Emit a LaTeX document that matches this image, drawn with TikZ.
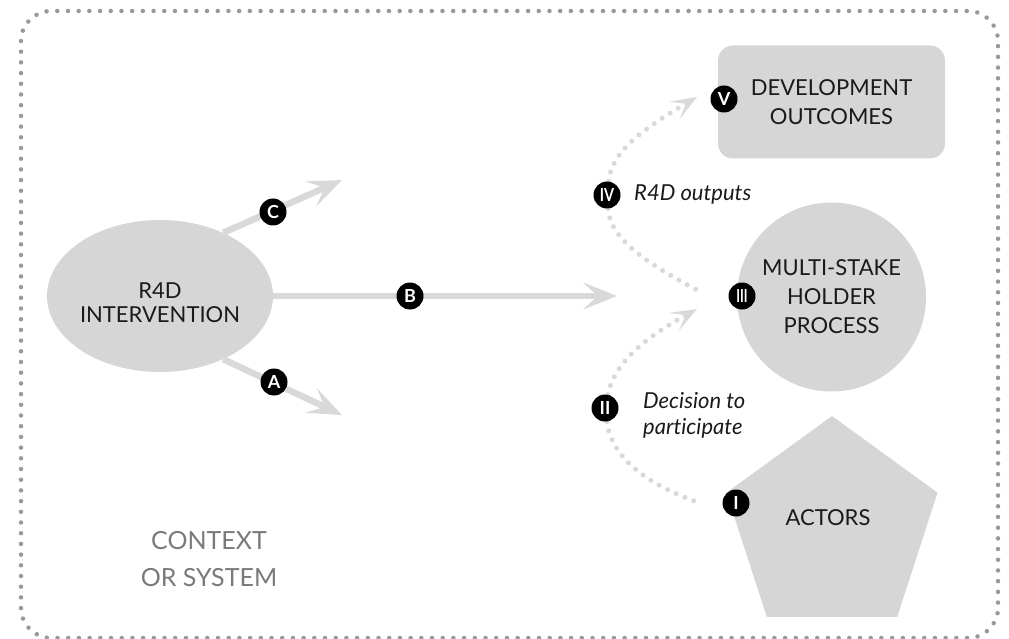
\documentclass[tikz,border=0pt]{standalone}
\usepackage{fontspec}
\setmainfont{Lato}[Ligatures=NoCommon]
\usetikzlibrary{arrows.meta,shapes.geometric}
\definecolor{gshape}{HTML}{D6D6D6}
\definecolor{garrow}{HTML}{D9D9D9}
\definecolor{gborder}{HTML}{999999}
\definecolor{gctx}{HTML}{7A7A7A}
\definecolor{ink}{HTML}{1A1A1A}
\pgfdeclarelayer{bg}
\pgfdeclarelayer{mid}
\pgfsetlayers{bg,mid,main}
\begin{document}
\begin{tikzpicture}[x=1pt,y=-1pt,
  shapefill/.style={fill=gshape,draw=none},
  lbl/.style={font=\fontsize{22}{29}\selectfont,text=ink,align=center},
  badge/.style={circle,fill=black,text=white,minimum size=27pt,inner sep=0pt,font=\fontsize{18}{18}\selectfont\bfseries},
  bigarrow/.style={draw=garrow,line width=6.5pt,-{Stealth[length=34pt,width=27pt,inset=15pt]}},
  dotline/.style={draw=garrow,line width=5pt,line cap=round,dash pattern=on 0pt off 9.5pt},
  dotarrow/.style={dotline,-{Stealth[length=26pt,width=20pt,inset=13pt]}},
  note/.style={font=\fontsize{22}{26}\selectfont\itshape,text=ink,align=left,anchor=west,inner sep=0pt}
]
\useasboundingbox (0,0) rectangle (1009,639);
\draw[draw=gborder,line width=4.5pt,line cap=round,dash pattern=on 0pt off 10.7pt,rounded corners=30pt] (21,11) rectangle (998,638);

\begin{pgfonlayer}{bg}
\node[ellipse,shapefill,minimum width=226pt,minimum height=152pt,inner sep=0pt] (r4d) at (160,296) {};
\node[circle,shapefill,minimum size=189pt,inner sep=0pt,lbl] (msp) at (831.5,297) {MULTI-STAKE\\HOLDER\\PROCESS};
\node[rectangle,rounded corners=15pt,shapefill,minimum width=227pt,minimum height=113pt,lbl] (dev) at (831.5,102) {DEVELOPMENT\\OUTCOMES};
\node[regular polygon,regular polygon sides=5,minimum size=222pt,inner sep=0pt,shapefill] (act) at (832,527) {};
\end{pgfonlayer}

\node[lbl,font=\fontsize{22}{24}\selectfont] (r4dt) at (160,303) {R4D\\INTERVENTION};
\node[lbl] (actt) at (828,518) {ACTORS};
\node[font=\fontsize{25}{37}\selectfont,text=gctx,align=center] (ctx) at (209,559) {CONTEXT\\OR SYSTEM};

\node[badge] (bc) at (273,212) {C};
\node[badge] (ba) at (274,382) {A};
\node[badge] (bb) at (410,296) {B};
\node[badge] (bv) at (724,99) {V};
\node[badge] (biv) at (607,195) {\scalebox{0.8}[1]{IV}};
\node[badge] (biii) at (742,296) {\scalebox{0.7}[1]{III}};
\node[badge] (bii) at (605,408) {II};
\node[badge] (bi) at (736,503) {I};

\node[note] (outs) at (634,195) {R4D outputs};
\node[note] (dec) at (643,415) {Decision to\\participate};

\coordinate (cEnd) at (342,180);
\coordinate (aEnd) at (342,415);
\coordinate (bEnd) at (617,296);
\coordinate (vTip) at (697,97);
\coordinate (iiiEnd) at (697,290);
\coordinate (iiiTip) at (697,309);
\coordinate (iEnd) at (697,502);

\begin{pgfonlayer}{mid}
\draw[bigarrow] (r4d.45) -- (cEnd);
\draw[bigarrow] (r4d.-45) -- (aEnd);
\draw[bigarrow] (r4d.east) -- (bEnd);
\draw[dotarrow] (biv) .. controls (612,150) and (645,128) .. (vTip);
\draw[dotline] (biv) .. controls (610,240) and (650,265) .. (iiiEnd);
\draw[dotarrow] (bii) .. controls (615,360) and (650,335) .. (iiiTip);
\draw[dotline] (bii) .. controls (612,460) and (650,485) .. (iEnd);
\end{pgfonlayer}
\end{tikzpicture}
\end{document}
